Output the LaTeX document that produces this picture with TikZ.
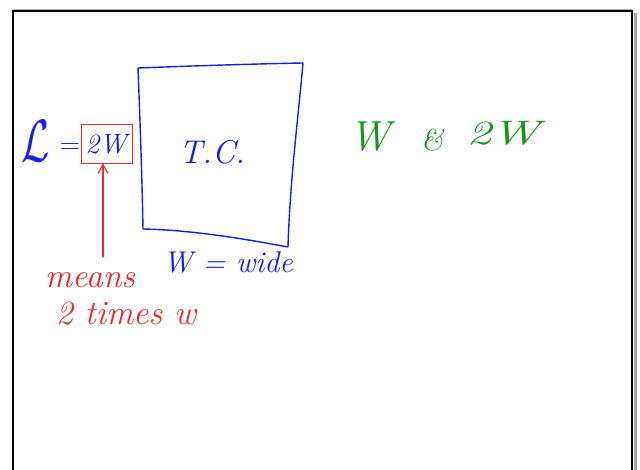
\documentclass[tikz,border=0pt]{standalone}
\usetikzlibrary{arrows.meta}
\definecolor{penblue}{RGB}{20,30,240}
\definecolor{penred}{RGB}{240,40,40}
\definecolor{pengreen}{RGB}{20,150,20}
\tikzset{
  hand/.style={font=\itshape, inner sep=0pt},
  bluetxt/.style={hand, text=penblue},
  redtxt/.style={hand, text=penred},
  greentxt/.style={hand, text=pengreen},
  bluestroke/.style={draw=penblue, line width=1.4pt, line join=round, line cap=round},
  redstroke/.style={draw=penred, line width=1.1pt, line join=round, line cap=round},
}
\begin{document}
\begin{tikzpicture}[x=1pt,y=-1pt]
\useasboundingbox (0,0) rectangle (640,470);
\fill[white] (0,0) rectangle (640,470);
% frame with shadow
\draw[gray!60, line width=1.5pt] (13,9.5) -- (632,9.5);
\draw[gray!70, line width=3pt] (635.5,13) -- (635.5,470);
\draw[black, line width=2pt] (13,470) -- (13,11.5) -- (632,11.5) -- (632,470);
% hand drawn square
\draw[bluestroke] (138,68) .. controls (190,66) and (250,64) .. (303,63)
  .. controls (298,120) and (290,180) .. (288,247)
  .. controls (240,238) and (190,230) .. (143,229)
  .. controls (142,175) and (140,120) .. (138,68) -- cycle;
\node[bluetxt, font=\itshape\fontsize{33}{33}\selectfont] (tc) at (212,152) {T.C.};
% L = 2W
\node[bluetxt, font=\fontsize{24.88}{25}\selectfont, transform shape, xscale=1.65, yscale=2.4] (L) at (36,141) {$\mathcal{L}$};
\node[bluetxt, font=\upshape\fontsize{28}{28}\selectfont] (eq) at (70,149) {=};
\node[bluetxt, font=\itshape\fontsize{28}{28}\selectfont] (twow) at (106,144) {2W};
\node[draw=penred, line width=0.9pt, minimum width=51pt, minimum height=39pt, inner sep=0pt] (rbox) at (106.5,143.5) {};
% W = wide
\node[bluetxt, font=\itshape\fontsize{30}{30}\selectfont] (wide) at (228,262) {W = wide};
% red annotation
\node[redtxt, font=\itshape\fontsize{34}{34}\selectfont] (means) at (90,280) {means};
\node[redtxt, font=\itshape\fontsize{34}{34}\selectfont] (times) at (126,314) {2 times w};
\coordinate (astart) at (103,257);
\draw[redstroke, -{Straight Barb[length=9pt,width=10pt]}] (astart) -- (rbox.south -| astart);
% green text
\node[greentxt, font=\itshape\fontsize{42}{42}\selectfont] (gw) at (370,137) {W};
\node[greentxt, font=\itshape\fontsize{30}{30}\selectfont] (amp) at (432,140) {\&};
\node[greentxt, font=\itshape\fontsize{34}{34}\selectfont, xscale=1.45] (g2w) at (503,133) {2W};
\end{tikzpicture}
\end{document}
